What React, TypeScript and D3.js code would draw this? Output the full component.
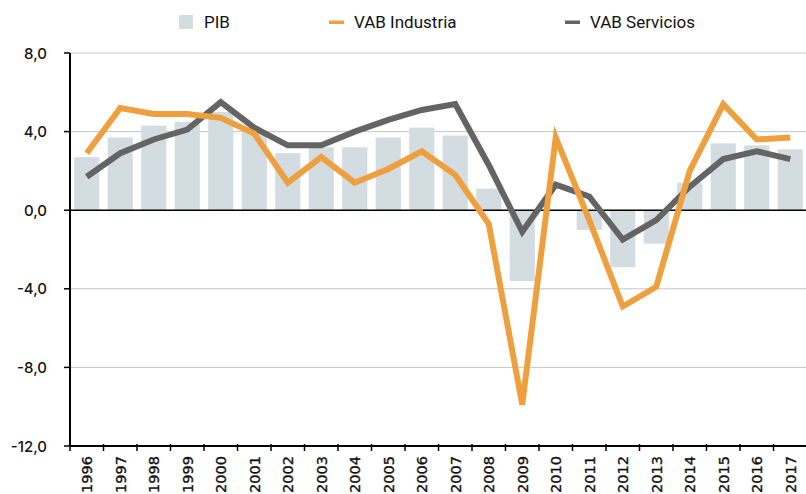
import React from 'react';
import * as d3 from 'd3';

// años y series (% variación anual)
const years = ['1996', '1997', '1998', '1999', '2000', '2001', '2002', '2003', '2004', '2005', '2006',
  '2007', '2008', '2009', '2010', '2011', '2012', '2013', '2014', '2015', '2016', '2017'];
const pib = [2.7, 3.7, 4.3, 4.5, 5.0, 4.0, 2.9, 3.2, 3.2, 3.7, 4.2, 3.8, 1.1, -3.6, 0.0, -1.0, -2.9, -1.7, 1.4, 3.4, 3.3, 3.1];
const vabIndustria = [2.9, 5.2, 4.9, 4.9, 4.7, 3.9, 1.4, 2.7, 1.4, 2.1, 3.0, 1.8, -0.7, -9.9, 3.7, -0.5, -4.9, -3.9, 2.0, 5.4, 3.6, 3.7];
const vabServicios = [1.7, 2.9, 3.6, 4.1, 5.5, 4.2, 3.3, 3.3, 4.0, 4.6, 5.1, 5.4, 2.3, -1.1, 1.3, 0.7, -1.5, -0.5, 1.2, 2.6, 3.0, 2.6];
const yTicks = [8, 4, 0, -4, -8, -12];

const W = 806;
const H = 494;
const left = 70, right = 807, top = 53, bottom = 446;

const colBar = '#d3dce1';
const colInd = '#efa03e';
const colSer = '#636463';

const fmt = (v: number) => d3.format('.1f')(v).replace('.', ',').replace('−', '-');

export default function App() {
  const x = d3.scaleBand<string>().domain(years).range([left, right]).paddingInner(0.25).paddingOuter(0.125);
  const y = d3.scaleLinear().domain([-12, 8]).range([bottom, top]);
  const step = x.step();
  const cx = (yr: string) => (x(yr) as number) + x.bandwidth() / 2;

  const line = d3.line<number>()
    .x((_, i) => cx(years[i]))
    .y(d => y(d));

  return (
    <svg width={W} height={H} style={{ position: 'absolute', left: 0, top: 0, background: '#fff' }}>
      {/* legend */}
      <g fontFamily="Roboto, sans-serif" fontSize={17} fill="#111">
        <rect x={179} y={15} width={14} height={14} fill={colBar} />
        <text x={204} y={28}>PIB</text>
        <rect x={329} y={20.5} width={15} height={3.5} fill={colInd} />
        <text x={354} y={28}>VAB Industria</text>
        <rect x={565} y={20.5} width={15} height={3.5} fill={colSer} />
        <text x={590} y={28}>VAB Servicios</text>
      </g>

      {/* grid */}
      {yTicks.filter(t => t !== 0 && t !== -12).map(t => (
        <line key={t} x1={left} x2={W} y1={y(t)} y2={y(t)} stroke="#c4c4c4" strokeWidth={1} />
      ))}

      {/* bars */}
      {pib.map((v, i) => (
        <rect key={years[i]} x={x(years[i])} width={x.bandwidth()}
          y={y(Math.max(0, v))} height={Math.abs(y(v) - y(0))} fill={colBar} />
      ))}

      {/* zero line */}
      <line x1={left} x2={W} y1={y(0)} y2={y(0)} stroke="#000" strokeWidth={1.5} />

      {/* lines */}
      <path d={line(vabServicios) || ''} fill="none" stroke={colSer} strokeWidth={6} strokeLinejoin="miter" />
      <path d={line(vabIndustria) || ''} fill="none" stroke={colInd} strokeWidth={6} strokeLinejoin="miter" />

      {/* y axis */}
      <line x1={left} x2={left} y1={top} y2={bottom} stroke="#000" strokeWidth={2} />
      {yTicks.map(t => (
        <g key={t}>
          <line x1={left - 6} x2={left} y1={y(t)} y2={y(t)} stroke="#000" strokeWidth={1.5} />
          <text x={47} y={y(t) + 5.5} textAnchor="end" fontFamily="Inter, sans-serif" fontWeight={500} fontSize={15} fill="#111">{fmt(t)}</text>
        </g>
      ))}

      {/* x axis */}
      <line x1={left} x2={W} y1={bottom} y2={bottom} stroke="#000" strokeWidth={2} />
      {d3.range(years.length + 1).map(i => (
        <line key={i} x1={left + i * step} x2={left + i * step} y1={bottom - 2} y2={bottom + 5} stroke="#000" strokeWidth={1.5} />
      ))}
      {years.map(yr => (
        <text key={yr} transform={`translate(${cx(yr) + 5.5},${bottom + 10}) rotate(-90)`} textAnchor="end"
          fontFamily="DejaVu Sans, sans-serif" fontSize={14.5} fill="#111" stroke="#111" strokeWidth={0.35}>{yr}</text>
      ))}
    </svg>
  );
}
